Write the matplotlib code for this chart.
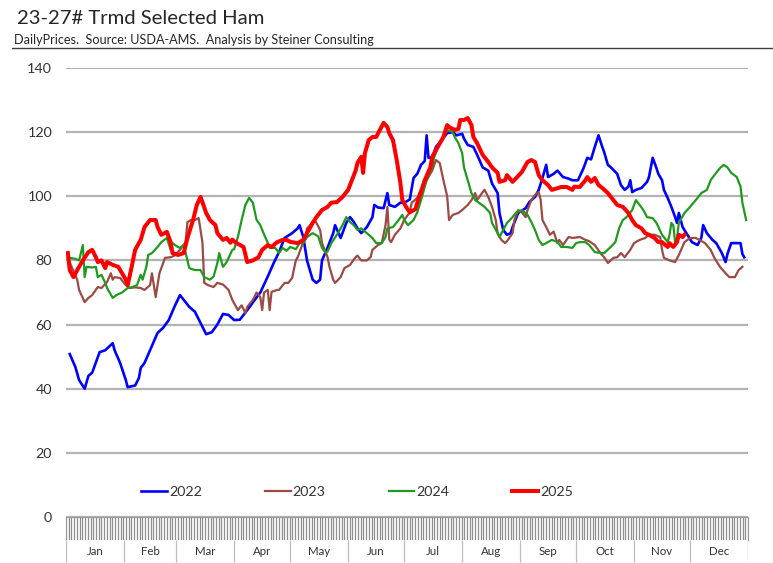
import matplotlib
matplotlib.use("Agg")
import matplotlib.pyplot as plt
from matplotlib.lines import Line2D

plt.rcParams['font.family'] = ['Lato', 'DejaVu Sans']

# ---------------- data (day of year, price) ----------------
days_2022 = [2, 5, 7, 10, 12, 14, 18, 21, 25, 26, 29, 32, 33, 37, 39, 40, 42, 45, 49, 52, 55, 58, 61, 64, 66, 69,
             72, 75, 78, 81, 84, 87, 90, 93, 97, 101, 104, 108, 111, 114, 117, 121, 124, 125, 127, 129, 132, 134,
             136, 137, 140, 143, 144, 147, 150, 152, 154, 156, 158, 161, 164, 165, 167, 170, 172, 173, 176, 179,
             181, 184, 186, 188, 190, 192, 193, 194, 196, 198, 201, 204, 207, 209, 212, 213, 215, 218, 220, 223,
             226, 228, 231, 232, 234, 236, 238, 239, 242, 246, 248, 251, 253, 255, 257, 258, 261, 263, 266, 269,
             271, 274, 277, 279, 281, 283, 285, 287, 288, 290, 292, 295, 297, 299, 301, 302, 303, 305, 308, 311,
             312, 314, 316, 317, 319, 320, 322, 324, 326, 327, 328, 330, 332, 335, 338, 340, 341, 343, 346, 348,
             351, 353, 354, 356, 359, 361, 362, 363]
vals_2022 = [50.8, 46.8, 42.7, 40, 44, 45, 51.4, 52, 54.2, 52, 48, 42.7, 40.5, 41, 43.3, 46.5, 48, 52, 57.4, 59,
             61.4, 65.5, 69.2, 67, 65.5, 64, 60.5, 57, 57.6, 60, 63.3, 63, 61.4, 61.5, 64.5, 67.7, 70, 75, 79, 82.6,
             87, 88.5, 90, 91, 87.3, 80, 74, 73, 74, 80, 84, 88.5, 91, 87, 91.7, 93.5, 92, 90, 88.5, 90.4, 93.5,
             97.3, 96.5, 96.3, 101, 97.3, 96.7, 98, 98, 99, 105.7, 107, 109.8, 111, 119, 112, 112, 115.4, 117.5,
             119.7, 120, 119, 119.5, 118, 116, 115.4, 113, 109, 108, 104, 101, 94.8, 89.5, 88, 88.5, 90.4, 94.8,
             96.3, 98.2, 99.8, 102, 105.7, 109.8, 106, 107, 108, 106, 105.5, 105, 105, 108.8, 112, 111.5, 115.4,
             119, 115.4, 113.8, 109.8, 108.8, 107, 103.5, 102, 103, 105, 101.3, 102, 102.6, 104.5, 106, 112, 108.8,
             107, 105, 102, 99.5, 96.7, 93.5, 91.7, 94.8, 90.4, 88.5, 85.7, 84.8, 87, 91, 88.5, 86.4, 85.4, 82.3,
             79.5, 82, 85.4, 85.4, 85.4, 82, 81]

days_2023 = [1, 3, 6, 7, 10, 12, 14, 17, 19, 22, 24, 25, 26, 29, 32, 34, 37, 40, 42, 45, 46, 48, 50, 53, 56, 58,
             61, 64, 65, 67, 69, 71, 73, 74, 76, 79, 81, 84, 87, 89, 92, 94, 96, 97, 100, 102, 104, 105, 106, 108,
             109, 110, 113, 114, 117, 119, 121, 123, 124, 126, 128, 129, 132, 133, 134, 136, 137, 140, 141, 143,
             144, 147, 149, 152, 155, 156, 158, 161, 163, 164, 167, 169, 171, 172, 173, 174, 176, 179, 181, 184,
             185, 188, 190, 193, 196, 198, 200, 202, 204, 205, 207, 210, 212, 215, 217, 219, 220, 223, 224, 226,
             228, 230, 231, 233, 235, 236, 239, 240, 242, 244, 246, 247, 249, 251, 253, 254, 255, 257, 259, 261,
             263, 264, 266, 269, 271, 275, 278, 280, 283, 286, 288, 290, 293, 295, 297, 299, 302, 304, 307, 310,
             312, 315, 318, 319, 320, 323, 326, 328, 331, 334, 337, 339, 342, 345, 347, 350, 353, 355, 358, 360,
             362]
vals_2023 = [80.8, 78, 74, 70.8, 67, 68.3, 69.2, 71.7, 71.4, 73.3, 76, 74, 74.8, 74.5, 72.3, 71.4, 71.6, 71.4,
             70.8, 72.3, 76, 68.6, 76, 80.8, 81, 81.5, 83.3, 85.7, 92, 92.6, 92.6, 93.2, 85.7, 73, 72.3, 71.7, 73,
             72.5, 70.8, 67.7, 64.5, 66, 63.6, 65.5, 67.7, 70, 68.5, 64.5, 70, 70.8, 64.5, 70.2, 70.8, 70.8, 73, 73,
             74.5, 80, 81, 84.2, 87, 90, 91.7, 92.6, 91.7, 89.5, 85.4, 81, 78, 74, 73, 74.8, 77.6, 78.6, 81, 81.5,
             80, 80, 81, 83.3, 84.8, 85.4, 91, 96.7, 86.5, 85.7, 88, 90, 92.6, 95, 98, 99.5, 102, 105, 108, 111.3,
             110.4, 105, 100, 92.6, 94.2, 94.8, 95.7, 97.3, 98.8, 101, 98.8, 101.3, 102, 99.8, 96.7, 92.6, 88.5,
             86.4, 85.4, 86, 88.5, 92.6, 95.7, 95, 93.5, 95.7, 98.8, 100.4, 101.3, 99, 92.6, 90.4, 88, 89, 85.4,
             86.4, 84.8, 87.3, 87, 87.3, 86.4, 86, 84.8, 82.3, 81, 79.2, 80.8, 81, 82.3, 81, 83.3, 85.4, 86.4, 87,
             88, 88, 87.3, 83.3, 80.8, 80, 79.5, 81.7, 85.7, 87, 87, 86.4, 85.4, 83.3, 80.8, 78, 76, 74.8, 74.8,
             77, 78]

days_2024 = [2, 5, 7, 9, 10, 11, 14, 16, 17, 19, 21, 22, 25, 27, 30, 33, 35, 38, 40, 41, 43, 44, 46, 49, 51, 54,
             56, 57, 59, 61, 63, 65, 66, 69, 72, 74, 77, 79, 81, 82, 84, 86, 89, 90, 92, 94, 96, 98, 100, 102, 104,
             105, 108, 109, 112, 114, 116, 118, 120, 123, 125, 127, 129, 132, 135, 137, 139, 140, 142, 145, 148,
             150, 152, 154, 156, 158, 161, 164, 166, 169, 171, 172, 175, 178, 180, 181, 183, 186, 188, 190, 193,
             196, 197, 199, 202, 204, 207, 208, 210, 212, 213, 215, 217, 219, 221, 224, 227, 228, 231, 232, 234,
             236, 239, 241, 244, 247, 249, 251, 253, 255, 257, 260, 263, 265, 268, 271, 273, 275, 278, 280, 283,
             286, 288, 291, 294, 296, 298, 300, 303, 305, 307, 309, 311, 314, 316, 319, 322, 323, 324, 325, 326,
             327, 328, 331, 334, 337, 338, 340, 343, 345, 347, 350, 352, 354, 356, 359, 361, 362, 364]
vals_2024 = [80.8, 80.5, 80, 84.8, 74.8, 78, 77.8, 78, 74.8, 75.5, 73, 71.4, 68.3, 69.2, 70, 71.4, 71.6, 72.3,
             75.5, 74, 78, 81.7, 82.3, 84.2, 85.7, 87, 83.3, 85.4, 84.5, 83.9, 84.8, 80, 77.6, 77, 77, 74.8, 74,
             75, 79.2, 82.3, 78, 79.5, 83.3, 83.5, 87.3, 92.6, 97.3, 99.5, 98, 92.6, 91, 89.5, 85.4, 83.9, 83.9,
             82.3, 83.9, 83, 84.2, 83.5, 85.4, 85.4, 87.3, 88.5, 87.5, 83.9, 82.3, 82.8, 85.4, 88, 91, 93.5, 92,
             91, 89.5, 90, 88.5, 87, 85.4, 85.4, 87.3, 90, 90.4, 92.6, 94.2, 92.6, 91, 92.6, 95, 98.8, 105, 109,
             112, 115.4, 118.5, 120.7, 120, 118.5, 116.6, 113.5, 109, 105, 101, 98.8, 98, 96.7, 94.8, 91.7, 88.5,
             87.3, 89.5, 91.7, 93.5, 95, 95.7, 94.2, 92, 89.5, 86.4, 84.8, 85.4, 86.4, 85.8, 84.2, 84.2, 83.9,
             85.4, 85.7, 85.7, 84.8, 82.6, 82.3, 82.3, 83.9, 85.7, 90, 92.6, 93.5, 95.7, 98.8, 97.3, 95.7, 93.5,
             93.2, 91.7, 88, 85.7, 88, 91.7, 91, 85.7, 87, 91.7, 94.8, 96.7, 98.8, 99.5, 101, 102, 105, 106.6,
             108.8, 109.8, 109, 107.3, 106, 103, 98, 92.6]

days_2025 = [1, 2, 4, 6, 7, 9, 12, 14, 16, 17, 19, 21, 22, 25, 28, 30, 32, 33, 35, 37, 40, 42, 45, 48, 49, 51, 54,
             56, 57, 60, 63, 65, 68, 70, 72, 73, 75, 77, 80, 81, 84, 86, 88, 89, 91, 95, 97, 100, 103, 105, 108,
             110, 113, 116, 118, 120, 123, 124, 127, 129, 132, 134, 137, 140, 142, 145, 148, 151, 153, 155, 156,
             158, 159, 160, 162, 164, 166, 168, 170, 172, 173, 175, 177, 179, 180, 182, 184, 187, 189, 192, 195,
             196, 199, 202, 204, 205, 208, 210, 211, 213, 215, 217, 218, 220, 223, 226, 228, 231, 232, 235, 236,
             239, 241, 244, 247, 249, 251, 253, 255, 258, 260, 263, 265, 268, 271, 272, 275, 278, 279, 281, 283,
             285, 287, 290, 293, 295, 298, 301, 303, 305, 308, 310, 312, 315, 317, 319, 322, 323, 325, 327, 328,
             330, 331]
vals_2025 = [82.3, 77, 74.8, 77, 78, 80, 82.6, 83.3, 81, 79.5, 80, 77.6, 79.5, 78.6, 78, 76, 74, 72.3, 77.6,
             83.3, 86.4, 90.4, 92.6, 92.6, 90.4, 88, 88.9, 85.7, 82.3, 81.7, 82.3, 87, 92.6, 97.3, 99.8, 98.2,
             94.8, 92.6, 91, 88.5, 86.4, 87, 85.5, 86.5, 85.5, 84.2, 79.5, 80, 81, 83.3, 84.8, 84.2, 85.7, 86.4,
             86.4, 85.8, 85.5, 85.4, 86.4, 88.5, 91.7, 93.5, 95.7, 96.7, 98, 98.2, 99.8, 102, 105, 108, 110.4,
             112.3, 107.3, 113.5, 117.5, 118.5, 118.5, 120.7, 122.9, 121.6, 119.7, 117.5, 111.3, 104, 98.8, 96.7,
             95, 96, 99.8, 105, 109, 112.3, 115.4, 118.5, 122.2, 121.6, 120.7, 121, 123.8, 123.8, 124.4, 122.2,
             118.5, 116.6, 112.9, 110.7, 109, 107.3, 104.5, 105, 106.6, 104.5, 105.7, 107.6, 110.7, 111.3, 110.7,
             106.6, 105, 103.5, 102, 102.5, 102.9, 102.9, 102, 103, 102.9, 105, 106, 104.5, 105.7, 103.5, 102.6,
             101, 98.8, 97.3, 96.7, 94.8, 92.6, 91, 90, 88.5, 88, 87, 85.7, 85.7, 84.2, 85.4, 84.2, 85.7, 88,
             87.3, 88]

years = ['2022', '2023', '2024', '2025']
months = ['Jan', 'Feb', 'Mar', 'Apr', 'May', 'Jun', 'Jul', 'Aug', 'Sep', 'Oct', 'Nov', 'Dec']
month_len = [31, 28, 31, 30, 31, 30, 31, 31, 30, 31, 30, 31]
y_ticks = [0, 20, 40, 60, 80, 100, 120, 140]
title = '23-27# Trmd Selected Ham'
subtitle = 'DailyPrices.  Source: USDA-AMS.  Analysis by Steiner Consulting'

# ---------------- figure ----------------
W, H = 773, 563
fig = plt.figure(figsize=(W / 100, H / 100), dpi=100)


def rect(x0, y0, x1, y1):
    return [x0 / W, 1 - y1 / H, (x1 - x0) / W, (y1 - y0) / H]


ax = fig.add_axes(rect(66, 68, 748, 517))
ax.set_xlim(0, 365)
ax.set_ylim(0, 140)
ax.set_yticks(y_ticks)
ax.set_yticklabels([str(t) for t in y_ticks])
ax.set_xticks([])
ax.tick_params(axis='y', length=0, pad=10, labelsize=10.3, labelcolor='#333333')
for s in ax.spines.values():
    s.set_visible(False)
ax.yaxis.grid(True, color='#b3b3b3', lw=1.6)
ax.set_axisbelow(True)

series = [
    (days_2022, vals_2022, '#0000ff', 1.9),
    (days_2023, vals_2023, '#9c4a45', 1.6),
    (days_2024, vals_2024, '#1f9a1f', 1.6),
    (days_2025, vals_2025, '#ff0000', 2.9),
]
for (d, v, c, lw), yr in zip(series, years):
    ax.plot(d, v, color=c, lw=lw, label=yr, solid_joinstyle='round')

ax.legend(ncol=4, loc='center', bbox_to_anchor=(0.427, 0.056), frameon=False,
          handlelength=1.8, handletextpad=0.15, columnspacing=4.4, fontsize=10.3,
          labelcolor='#333333')

# tick strip (dense category ticks)
ax2 = fig.add_axes(rect(66, 517, 748, 540))
ax2.set_xlim(0, 365)
ax2.set_ylim(0, 1)
ax2.set_xticks([])
ax2.set_yticks([])
n_ticks = 250
ax2.vlines([i * 365 / n_ticks for i in range(n_ticks + 1)], 0, 1, color='#8f8f8f', lw=0.9)
for s in ax2.spines.values():
    s.set_color('#9a9a9a')
    s.set_linewidth(0.8)

# month label row
ax3 = fig.add_axes(rect(66, 540, 748, 563))
ax3.set_xlim(0, 365)
ax3.set_ylim(0, 1)
ax3.set_xticks([])
ax3.set_yticks([])
for s in ax3.spines.values():
    s.set_visible(False)
start = 0
bounds = [0]
for m, ml in zip(months, month_len):
    ax3.text(start + ml / 2, 0.52, m, ha='center', va='center', fontsize=8.3, color='#333333')
    start += ml
    bounds.append(start)
ax3.vlines(bounds, 0.05, 1, color='#bdbdbd', lw=0.9)

# titles
fig.text(17 / W, 1 - 18 / H, title, fontsize=14.6, va='center', ha='left', color='#262626')
fig.text(14 / W, 1 - 40 / H, subtitle, fontsize=9.1, va='center', ha='left', color='#262626')
fig.add_artist(Line2D([12 / W, 1.0], [1 - 47.5 / H, 1 - 47.5 / H], transform=fig.transFigure,
                      color='#404040', lw=1.0))

fig.savefig('out.png', dpi=100)
